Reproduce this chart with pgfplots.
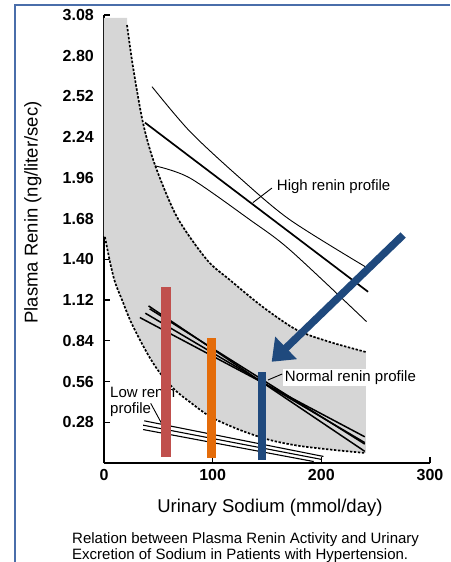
\documentclass[border=0pt]{standalone}
\usepackage{fontspec}
\setmainfont{Liberation Sans}
\usepackage{pgfplots}
\pgfplotsset{compat=1.18}
\usetikzlibrary{arrows.meta}

\definecolor{barred}{RGB}{192,80,77}
\definecolor{barorange}{RGB}{228,108,10}
\definecolor{barblue}{RGB}{31,73,125}
\definecolor{framebl}{RGB}{74,110,170}
\definecolor{band}{RGB}{214,214,214}

\begin{document}
\begin{tikzpicture}
\path[use as bounding box] (-104pt,-99pt) rectangle (346pt,463pt);
% blue frame of the slide
\draw[framebl, line width=2pt] (-89pt,-99pt) -- (-89pt,458pt) -- (346pt,458pt);
\begin{axis}[
    scale only axis,
    width=326pt, height=448pt,
    xmin=0, xmax=300, ymin=0, ymax=3.08,
    axis lines=left,
    axis line style={-, line width=1.4pt},
    tick align=inside,
    major tick length=6pt,
    tick style={line width=1.2pt, black},
    xtick={0,100,200,300},
    ytick={0.28,0.56,0.84,1.12,1.40,1.68,1.96,2.24,2.52,2.80,3.08},
    yticklabels={0.28,0.56,0.84,1.12,1.40,1.68,1.96,2.24,2.52,2.80,3.08},
    tick label style={font=\bfseries\fontsize{16}{16}\selectfont},
    /pgf/number format/assume math mode=true,
    xticklabel style={anchor=north, inner sep=0pt, yshift=-6pt},
    yticklabel style={anchor=east, inner sep=0pt, xshift=-10pt},
    xlabel={Urinary Sodium (mmol/day)},
    xlabel style={font=\fontsize{18.5}{20}\selectfont, at={(axis description cs:0.509,-0.1004)}, anchor=center},
    ylabel={Plasma Renin (ng/liter/sec)},
    ylabel style={font=\fontsize{18.5}{20}\selectfont, at={(axis description cs:-0.218,0.559)}, anchor=center},
    clip=false,
]
% shaded band
\addplot[fill=band, draw=none] coordinates {
    (0,3.06) (21.2,3.06) (21.2,3.011) (26.7,2.723) (35.9,2.338) (46.9,2.049)
    (67.2,1.691) (94.8,1.396) (115.9,1.258) (146.3,1.072) (177.6,0.914)
    (207.9,0.832) (241,0.763) (241,0.069) (240.1,0.069) (212.5,0.089)
    (180.3,0.117) (152.7,0.158) (125.1,0.227) (98.4,0.316) (79.1,0.419)
    (65.3,0.502) (51.5,0.619) (42.3,0.722) (33.1,0.846) (24.0,0.983)
    (16.6,1.121) (10.1,1.244) (5.5,1.382) (0.9,1.554) (0,1.56)} -- cycle;
% dashed boundaries
\addplot[black, line width=1.7pt, dash pattern=on 2.4pt off 1.6pt, smooth] coordinates {
    (21.2,3.011) (26.7,2.723) (35.9,2.338) (46.9,2.049) (67.2,1.691)
    (94.8,1.396) (115.9,1.258) (146.3,1.072) (177.6,0.914) (207.9,0.832) (241,0.763)};
\addplot[black, line width=1.7pt, dash pattern=on 2.4pt off 1.6pt, smooth] coordinates {
    (0.9,1.554) (5.5,1.382) (10.1,1.244) (16.6,1.121) (24.0,0.983) (33.1,0.846)
    (42.3,0.722) (51.5,0.619) (65.3,0.502) (79.1,0.419) (98.4,0.316)
    (125.1,0.227) (152.7,0.158) (180.3,0.117) (212.5,0.089) (240.1,0.069)};
% high renin profile
\addplot[black, line width=0.9pt, smooth] coordinates {
    (44.2,2.587) (79.1,2.279) (125,1.96) (171.1,1.672) (240.1,1.351)};
\addplot[black, line width=1.7pt] coordinates {(37.7,2.34) (243,1.177)};
\addplot[black, line width=0.9pt, smooth] coordinates {
    (46.9,2.043) (79.1,1.959) (134.3,1.672) (171.1,1.465) (241.6,0.972)};
% normal renin profile
\addplot[black, line width=1.5pt] coordinates {(41,1.08) (240,0.08)};
\addplot[black, line width=1.5pt] coordinates {(42,1.06) (240,0.13)};
\addplot[black, line width=1.5pt] coordinates {(38,1.03) (240,0.14)};
\addplot[black, line width=1.5pt] coordinates {(33,1.00) (240,0.18)};
% low renin profile
\addplot[black, line width=1.1pt] coordinates {(37,0.29) (202,0.045)};
\addplot[black, line width=1.1pt] coordinates {(36,0.26) (200,0.025)};
\addplot[black, line width=1.1pt] coordinates {(36,0.23) (193,0.01)};
% labels
\node[anchor=west, inner sep=0pt, font=\fontsize{15}{15}\selectfont] at (axis cs:159,1.90) {High renin profile};
\draw[black, line width=0.9pt] (axis cs:137,1.79) -- (axis cs:154.5,1.89);
\node[anchor=west, inner sep=1.5pt, fill=white, font=\fontsize{15}{15}\selectfont] at (axis cs:165,0.59) {Normal renin profile};
\draw[black, line width=0.9pt] (axis cs:151,0.571) -- (axis cs:164,0.612);
\node[anchor=west, inner sep=0pt, align=left, font=\fontsize{15}{16.5}\selectfont] at (axis cs:5.5,0.423) {Low renin\\profile};
\draw[black, line width=0.9pt] (axis cs:43,0.41) -- (axis cs:53,0.272);
% coloured marker bars
\addplot[barred, line width=10pt] coordinates {(57,0.043) (57,1.213)};
\addplot[barorange, line width=9pt] coordinates {(98.6,0.035) (98.6,0.86)};
\addplot[barblue, line width=8pt] coordinates {(145,0.02) (145,0.626)};
% pointing arrow
\draw[barblue, line width=7.5pt, -{Triangle[width=30pt 0 1, length=20pt 0 1]}] (axis cs:275.3,1.5675) -- (axis cs:154.3,0.696);
\end{axis}
\node[anchor=base west, inner sep=0pt, font=\fontsize{15}{15}\selectfont] at (-32pt,-80pt) {Relation between Plasma Renin Activity and Urinary};
\node[anchor=base west, inner sep=0pt, font=\fontsize{15}{15}\selectfont] at (-32pt,-96pt) {Excretion of Sodium in Patients with Hypertension.};
\end{tikzpicture}
\end{document}
